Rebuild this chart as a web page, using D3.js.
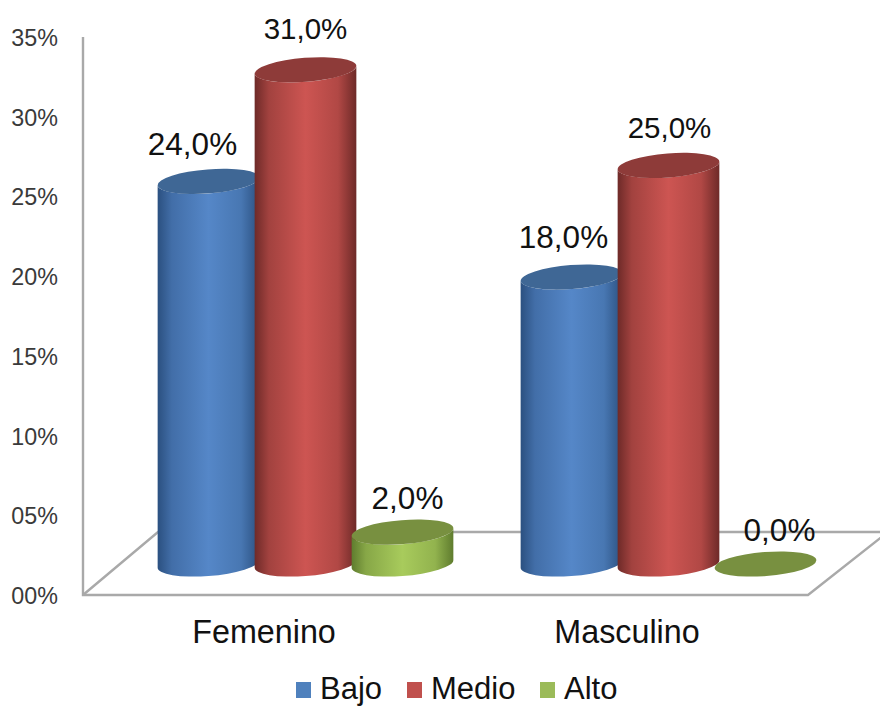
<!DOCTYPE html>
<html>
<head>
<meta charset="utf-8">
<script src="https://cdn.jsdelivr.net/npm/d3@7"></script>
<style>
html,body{margin:0;padding:0;background:#fff}
svg{display:block}
text{font-family:"Liberation Sans",Arial,sans-serif}
</style>
</head>
<body>
<svg id="chart" width="880" height="706"></svg>
<script>
// Survey results by gender and level
const categories = ["Femenino", "Masculino"];
const seriesNames = ["Bajo", "Medio", "Alto"];
const bajo = [24, 18];
const medio = [31, 25];
const alto = [2, 0];
const yTicks = [0, 5, 10, 15, 20, 25, 30, 35];

// Layout of the pseudo-3D scene
const W = 880, H = 706;
const wallX = 83, floorY = 595, topY = 37;
const depthDY = 31;               // floor depth seen at the cylinder axis
const floorBackY = 532;
const floorBackLeftX = 158, floorFrontRightX = 808, floorBackRightX = 888;
const rx = 51, ry = 12, tilt = -4.5 * Math.PI / 180;
const labelNudge = [
  [{dx: -16, dy: -37}, {dx: 0, dy: -41}, {dx: 5, dy: -34}],
  [{dx: -8, dy: -40}, {dx: 1, dy: -38}, {dx: 14, dy: -34}]
];
const labelSize = {Bajo: 31.5, Medio: 29.5, Alto: 31.5};

const palette = {
  Bajo:  {edge: "#2b5080", mid: "#5587c8", top: "#3f6795", swatch: "#4f81bd"},
  Medio: {edge: "#6e2a28", mid: "#cd5552", top: "#8e3b39", swatch: "#c0504d"},
  Alto:  {edge: "#5f7c2e", mid: "#a8cb5c", top: "#789040", swatch: "#9bbb59"}
};

const svg = d3.select("#chart");
const defs = svg.append("defs");
seriesNames.forEach(name => {
  const c = palette[name];
  const g = defs.append("linearGradient").attr("id", "cyl-" + name)
    .attr("x1", 0).attr("x2", 1).attr("y1", 0).attr("y2", 0);
  [[0, c.edge], [0.14, d3.interpolateRgb(c.edge, c.mid)(0.55)], [0.5, c.mid],
   [0.82, d3.interpolateRgb(c.edge, c.mid)(0.7)], [1, c.edge]]
    .forEach(([o, col]) => g.append("stop").attr("offset", o).attr("stop-color", col));
});

const yWall = d3.scaleLinear().domain([0, 35]).range([floorY, topY]);
const yBar = v => yWall(v) - depthDY;
const xGroup = d3.scaleBand().domain(categories).range([124, 850]);
const xSeries = d3.scalePoint().domain(seriesNames).range([-97, 97]);

// Walls and floor
const wall = svg.append("g").attr("fill", "none").attr("stroke", "#a9a9a9").attr("stroke-width", 2.4);
wall.append("path").attr("d", d3.line()([
  [wallX, topY], [wallX, floorY], [floorFrontRightX, floorY], [floorBackRightX, floorBackY]
]));
wall.append("path").attr("d", d3.line()([
  [wallX, floorY], [floorBackLeftX, floorBackY], [floorBackRightX, floorBackY]
]));

// Value axis
const axis = svg.append("g").attr("transform", `translate(${wallX - 25},1)`)
  .call(d3.axisLeft(yWall).tickValues(yTicks).tickSize(0).tickPadding(0)
    .tickFormat(d => d3.format("02d")(d) + "%"));
axis.select(".domain").remove();
axis.selectAll("text").attr("font-size", 23.3).attr("fill", "#3a3a3a")
  .style("font-family", '"Liberation Sans",Arial,sans-serif');

// Tangent points where the tilted ellipse has vertical sides
const t0 = Math.atan2(-ry * Math.sin(tilt), rx * Math.cos(tilt));
const tipX = rx * Math.cos(t0) * Math.cos(tilt) - ry * Math.sin(t0) * Math.sin(tilt);
const tipY = rx * Math.cos(t0) * Math.sin(tilt) + ry * Math.sin(t0) * Math.cos(tilt);
const deg = tilt * 180 / Math.PI;

function bodyPath(cx, yTop, yBase) {
  const p = d3.path();
  p.moveTo(cx - tipX, yTop - tipY);
  p.lineTo(cx - tipX, yBase - tipY);
  return p.toString() +
    `A${rx},${ry} ${deg} 0 0 ${cx + tipX},${yBase + tipY}` +
    `L${cx + tipX},${yTop + tipY}` +
    `A${rx},${ry} ${deg} 0 1 ${cx - tipX},${yTop - tipY}Z`;
}

const rows = seriesNames.flatMap((name, s) => {
  const values = [bajo, medio, alto][s];
  return categories.map((cat, i) => ({name, cat, i, s, value: values[i]}));
});
const cx = d => xGroup(d.cat) + xGroup.bandwidth() / 2 + xSeries(d.name);

// Cylinders, drawn left to right so each overlaps the previous one
const cyl = svg.append("g").selectAll("g").data(rows).join("g");
cyl.filter(d => d.value > 0).append("path")
  .attr("d", d => bodyPath(cx(d), yBar(d.value), yBar(0)))
  .attr("fill", d => `url(#cyl-${d.name})`);
cyl.append("ellipse")
  .attr("rx", rx).attr("ry", ry)
  .attr("transform", d => `translate(${cx(d)},${yBar(d.value)}) rotate(${deg})`)
  .attr("fill", d => palette[d.name].top);

// Data labels
svg.append("g").selectAll("text").data(rows).join("text")
  .attr("x", d => cx(d) + labelNudge[d.i][d.s].dx)
  .attr("y", d => yBar(d.value) + labelNudge[d.i][d.s].dy)
  .attr("text-anchor", "middle").attr("dominant-baseline", "central")
  .attr("font-size", d => labelSize[d.name]).attr("fill", "#111")
  .text(d => d3.format(".1f")(d.value).replace(".", ",") + "%");

// Category labels sit on the front edge of the floor
svg.append("g").selectAll("text").data(categories).join("text")
  .attr("x", d => xGroup(d) + xGroup.bandwidth() / 2 - 41.5)
  .attr("y", 632)
  .attr("text-anchor", "middle").attr("dominant-baseline", "central")
  .attr("font-size", 32.3).attr("fill", "#111").text(d => d);

// Legend
const legendX = d3.scaleOrdinal().domain(seriesNames).range([296, 407, 540]);
const legend = svg.append("g").selectAll("g").data(seriesNames).join("g")
  .attr("transform", d => `translate(${legendX(d)},682)`);
legend.append("rect").attr("width", 15).attr("height", 16).attr("fill", d => palette[d].swatch);
legend.append("text").attr("x", 24).attr("y", 17)
  .attr("font-size", 31).attr("fill", "#111").text(d => d);
</script>
</body>
</html>
